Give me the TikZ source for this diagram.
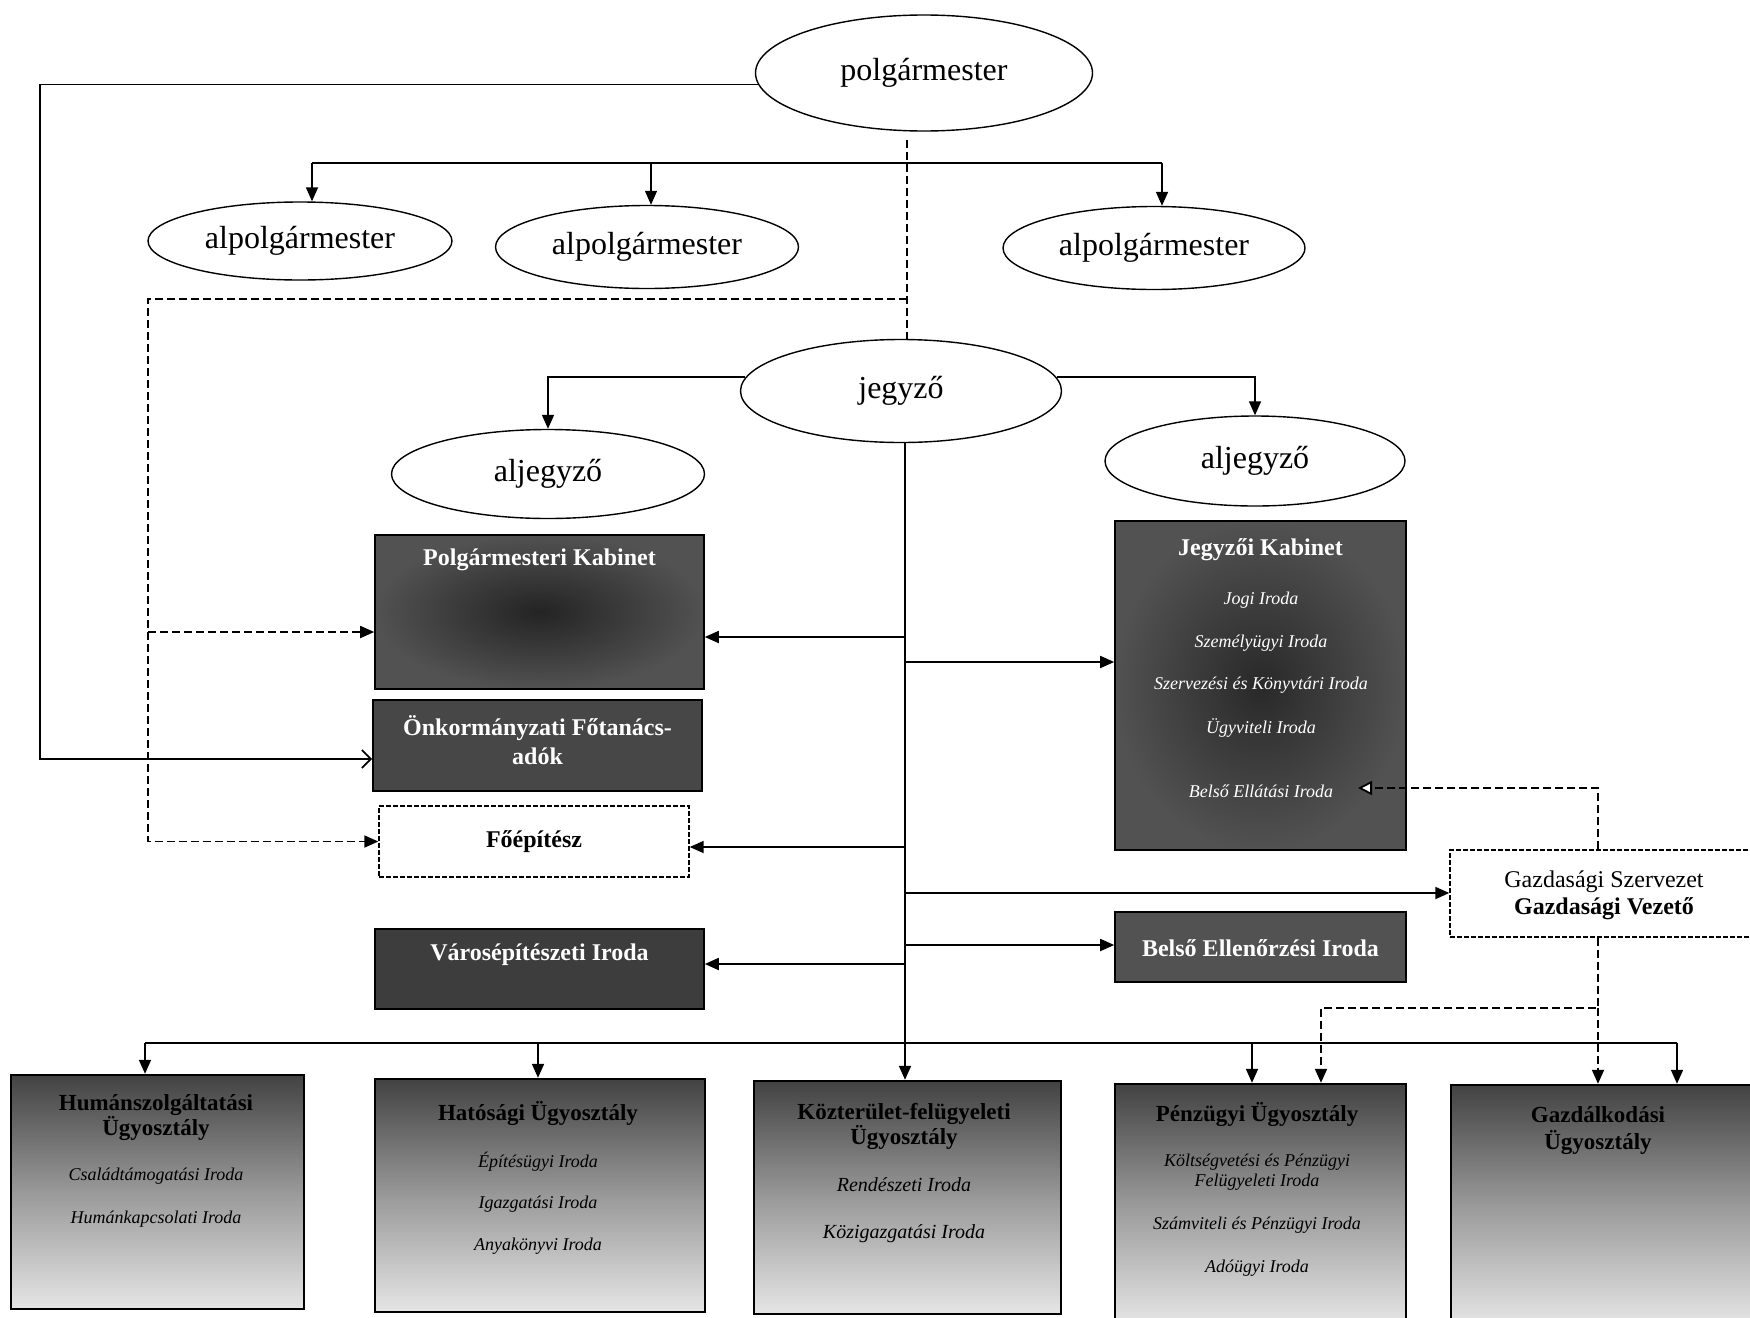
\documentclass[tikz,border=0pt]{standalone}
\usepackage{fontspec}
\setmainfont{Liberation Serif}
\usetikzlibrary{shapes.geometric,arrows.meta,calc}
\begin{document}
\begin{tikzpicture}[x=1pt,y=-1pt,
  ell/.style={ellipse,draw,line width=1.4pt,inner sep=0pt,font=\fontsize{32}{36}\selectfont},
  darkbox/.style={draw=black,line width=1.6pt,inner sep=0pt,fill=black!72},
  ltbox/.style={draw=black,line width=2.4pt,inner sep=0pt,top color=black!74,bottom color=black!10,middle color=black!40},
  dbox/.style={draw=black,line width=1.4pt,dash pattern=on 5pt off 2pt,inner sep=0pt,fill=white},
  wt/.style={text=white,font=\fontsize{24}{29}\selectfont\bfseries,align=center},
  wi/.style={text=white,font=\fontsize{18}{21}\selectfont\itshape},
  bh/.style={text=black,font=\fontsize{23}{25}\selectfont\bfseries,align=center},
  bi/.style={text=black,font=\fontsize{18}{20}\selectfont\itshape,align=center},
  conn/.style={line width=1.8pt,-{Triangle[length=14pt,width=12pt]}},
  dconn/.style={line width=1.8pt,dash pattern=on 8pt off 4pt,-{Triangle[length=14pt,width=12pt]}},
  dline/.style={line width=1.8pt,dash pattern=on 8pt off 4pt},
]
\useasboundingbox (0,0) rectangle (1750,1317);
\fill[white] (0,0) rectangle (1750,1317);
\clip (0,0) rectangle (1750,1317);

% ellipses
\node[ell,minimum width=337pt,minimum height=116pt] (pm) at (924,73) {polgármester};
\node[ell,minimum width=304pt,minimum height=78pt] (ap1) at (300,241) {alpolgármester};
\node[ell,minimum width=303pt,minimum height=83pt] (ap2) at (647,247) {alpolgármester};
\node[ell,minimum width=302pt,minimum height=83pt] (ap3) at (1154,248) {alpolgármester};
\node[ell,minimum width=321pt,minimum height=103pt] (jg) at (901,391) {jegyző};
\node[ell,minimum width=313pt,minimum height=89pt] (aj1) at (548,474) {aljegyző};
\node[ell,minimum width=300pt,minimum height=90pt] (aj2) at (1255,461) {aljegyző};

% dark boxes
\node[darkbox,inner color=black!86,outer color=black!68,minimum width=329pt,minimum height=154pt] (pk) at (539.5,612) {};
\node[wt] (pkt) at (539.5,560) {Polgármesteri Kabinet};
\node[darkbox,fill=black!72,minimum width=329pt,minimum height=91pt] (ok) at (537.5,745.5) {};
\node[wt] (okt) at (537.5,740) {Önkormányzati Főtanács-\\adók};
\node[dbox,minimum width=310pt,minimum height=71pt,font=\fontsize{24}{28}\selectfont\bfseries] (fe) at (534,841.5) {Főépítész};
\node[darkbox,fill=black!76,minimum width=329pt,minimum height=80pt] (vi) at (539.5,969) {};
\node[wt] (vit) at (539.5,955) {Városépítészeti Iroda};

\node[darkbox,inner color=black!84,outer color=black!68,minimum width=291pt,minimum height=329pt] (jk) at (1260.5,685.5) {};
\node[wt] (jkt) at (1260.5,550) {Jegyzői Kabinet};
\node[wi] (jk1) at (1261,600) {Jogi Iroda};
\node[wi] (jk2) at (1261,643) {Személyügyi Iroda};
\node[wi] (jk3) at (1261,685) {Szervezési és Könyvtári Iroda};
\node[wi] (jk4) at (1261,728) {Ügyviteli Iroda};
\node[wi] (jk5) at (1261,791) {Belső Ellátási Iroda};
\coordinate (bei) at (1358,788);

\node[darkbox,fill=black!68,minimum width=291pt,minimum height=70pt] (be) at (1260.5,947) {};
\node[wt] (bet) at (1260.5,948) {Belső Ellenőrzési Iroda};

\node[dbox,minimum width=305pt,minimum height=87pt] (gsz) at (1602.5,893.5) {};
\node[font=\fontsize{24}{27}\selectfont,align=center] (gszt) at (1604,895) {Gazdasági Szervezet\\\textbf{Gazdasági Vezető}};

% bottom boxes
\node[ltbox,minimum width=293pt,minimum height=234pt] (hu) at (157.5,1192) {};
\node[bh] (hut) at (156,1118) {Humánszolgáltatási\\Ügyosztály};
\node[bi] (hu1) at (156,1176) {Családtámogatási Iroda};
\node[bi] (hu2) at (156,1219) {Humánkapcsolati Iroda};

\node[ltbox,minimum width=330pt,minimum height=233pt] (ha) at (540,1195.5) {};
\node[bh] (hat) at (538,1113) {Hatósági Ügyosztály};
\node[bi] (ha1) at (538,1162) {Építésügyi Iroda};
\node[bi] (ha2) at (538,1204) {Igazgatási Iroda};
\node[bi] (ha3) at (538,1246) {Anyakönyvi Iroda};

\node[ltbox,minimum width=307pt,minimum height=233pt] (kt) at (907.5,1197.5) {};
\node[bh] (ktt) at (904,1126) {Közterület-felügyeleti\\Ügyosztály};
\node[bi,font=\fontsize{20}{22}\selectfont\itshape] (kt1) at (904,1185) {Rendészeti Iroda};
\node[bi,font=\fontsize{20}{22}\selectfont\itshape] (kt2) at (904,1234) {Közigazgatási Iroda};

\node[ltbox,minimum width=291pt,minimum height=240pt] (pu) at (1260.5,1204) {};
\node[bh] (put) at (1257,1114) {Pénzügyi Ügyosztály};
\node[bi] (pu1) at (1257,1172) {Költségvetési és Pénzügyi\\Felügyeleti Iroda};
\node[bi] (pu2) at (1257,1225) {Számviteli és Pénzügyi Iroda};
\node[bi] (pu3) at (1257,1268) {Adóügyi Iroda};

\node[ltbox,minimum width=304pt,minimum height=240pt] (ga) at (1603,1205) {};
\node[bh,font=\fontsize{23}{27}\selectfont\bfseries] (gat) at (1598,1131) {Gazdálkodási\\Ügyosztály};

% polgármester -> Önkormányzati
\coordinate (L1) at (40,759);
\draw[line width=1.8pt,-{Straight Barb[length=9pt,width=18pt]}] (pm.184) -| (L1) -- (L1 -| ok.west);

% bus to alpolgármesters
\coordinate (B1) at (312,163);
\coordinate (B2) at (651,163);
\coordinate (B3) at (1162,163);
\draw[line width=2pt] (B1) -- (B3);
\draw[conn] (B1) -- (B1 |- ap1.north);
\draw[conn,line width=1.2pt] (B2) -- (B2 |- ap2.north);
\draw[conn] (B3) -- (B3 |- ap3.north);

% dashed from polgármester
\coordinate (D0) at (907,140);
\coordinate (D1) at (907,299);
\coordinate (D2) at (148,299);
\coordinate (D3) at (148,632);
\draw[dline] (D0) -- (D0 |- jg.north);
\draw[dconn] (D1) -- (D2) |- (fe.west);
\draw[dconn] (D3) -- (D3 -| pk.west);

% jegyző to aljegyzők
\draw[conn] (jg.175) -| (aj1.north);
\draw[conn] (jg.5) -| (aj2.north);

% central line
\coordinate (C0) at (905,442);
\coordinate (C1) at (905,637);
\coordinate (C2) at (905,662);
\coordinate (C3) at (905,847);
\coordinate (C4) at (905,893);
\coordinate (C5) at (905,945);
\coordinate (C6) at (905,964);
\draw[conn] (C0) -- (C0 |- kt.north);
\draw[conn] (C1) -- (C1 -| pk.east);
\draw[conn] (C2) -- (C2 -| jk.west);
\draw[conn] (C3) -- (C3 -| fe.east);
\draw[conn] (C4) -- (C4 -| gsz.west);
\draw[conn] (C5) -- (C5 -| be.west);
\draw[conn] (C6) -- (C6 -| vi.east);

% bottom bus
\coordinate (E1) at (145,1043);
\coordinate (E2) at (538,1043);
\coordinate (E3) at (1252,1043);
\coordinate (E4) at (1677,1043);
\draw[line width=2pt] (E1) -- (E4);
\draw[conn] (E1) -- (E1 |- hu.north);
\draw[conn] (E2) -- (E2 |- ha.north);
\draw[conn] (E3) -- (E3 |- pu.north);
\draw[conn] (E4) -- (E4 |- ga.north);

% Gazdasági dashed
\coordinate (G1) at (1598,788);
\coordinate (G2) at (1598,1008);
\coordinate (G3) at (1321,1008);
\draw[dline,-{Triangle[open,fill=white,length=14pt,width=14pt]}] (gsz.north -| G1) -- (G1) -- (bei);
\draw[dconn] (gsz.south -| G2) -- (G2) -- (G3) -- (G3 |- pu.north);
\draw[dconn] (G2) -- (G2 |- ga.north);
\end{tikzpicture}
\end{document}
